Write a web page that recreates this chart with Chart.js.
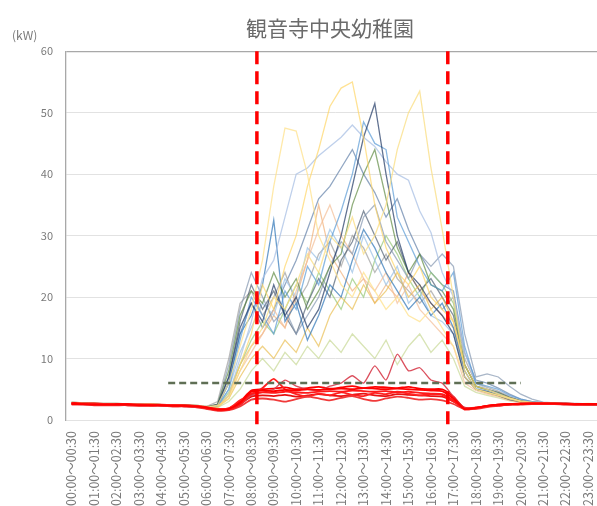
<!DOCTYPE html>
<html><head><meta charset="utf-8">
<script src="https://cdn.jsdelivr.net/npm/chart.js@4/dist/chart.umd.min.js"></script>
<style>
html,body{margin:0;padding:0;overflow:hidden;background:#fff;width:597px;height:506px}
#wrap{position:absolute;left:0;top:0;width:660px;height:506px}
canvas{display:block}
</style></head><body><div id="wrap"><canvas id="c" width="660" height="506"></canvas></div>
<script>
const chartTitle = '観音寺中央幼稚園';
const unitText = '(kW)';
const timeSlots = [
 '00:00～00:30','00:30～01:00','01:00～01:30','01:30～02:00','02:00～02:30','02:30～03:00',
 '03:00～03:30','03:30～04:00','04:00～04:30','04:30～05:00','05:00～05:30','05:30～06:00',
 '06:00～06:30','06:30～07:00','07:00～07:30','07:30～08:00','08:00～08:30','08:30～09:00',
 '09:00～09:30','09:30～10:00','10:00～10:30','10:30～11:00','11:00～11:30','11:30～12:00',
 '12:00～12:30','12:30～13:00','13:00～13:30','13:30～14:00','14:00～14:30','14:30～15:00',
 '15:00～15:30','15:30～16:00','16:00～16:30','16:30～17:00','17:00～17:30','17:30～18:00',
 '18:00～18:30','18:30～19:00','19:00～19:30','19:30～20:00','20:00～20:30','20:30～21:00',
 '21:00～21:30','21:30～22:00','22:00～22:30','22:30～23:00','23:00～23:30','23:30～24:00'];
const tickSlots = [0,2,4,6,8,10,12,14,16,18,20,22,24,26,28,30,32,34,36,38,40,42,44,46];
const yTicks = [0,10,20,30,40,50,60];

// weekday (school day) profiles, kW per half hour
const day01 = [2.8,2.7,2.7,2.6,2.6,2.6,2.5,2.6,2.5,2.5,2.4,2.3,2.0, 2.4,6,12,18, 26,38,47.5,47,40,30,26,22,20,24,21,18,20,17,16,18,15, 12,7,5,4.5,4,3.5,3.1,2.9, 2.8,2.7,2.7,2.6,2.7,2.6];
const day02 = [2.7,2.6,2.6,2.6,2.5,2.5,2.5,2.5,2.4,2.4,2.3,2.2,1.9, 2.1,4,9,14, 22,18,25,30,38,44,51,54,55,46,35,28,24,22,25,20,18, 16,9,5.5,5,4.2,3.6,3,2.8, 2.7,2.7,2.6,2.6,2.6,2.5];
const day03 = [2.9,2.8,2.7,2.7,2.7,2.6,2.6,2.6,2.5,2.5,2.4,2.4,2.2, 2.3,3.5,8,12, 15,20,18,22,27,24,30,28,33,27,30,35,44,50,53.5,41,31, 20,8,5,4.5,4,3.4,3,2.8, 2.7,2.7,2.6,2.6,2.5,2.6];
const day04 = [2.7,2.7,2.6,2.6,2.6,2.5,2.5,2.5,2.5,2.4,2.4,2.3,2.1, 2.5,7,15,19, 16,22,17,20,15,18,24,30,38,46,51.5,40,30,24,22,19,17, 14,7,5,4.6,4,3.3,3,2.8, 2.7,2.6,2.6,2.6,2.5,2.5];
const day05 = [2.8,2.7,2.6,2.6,2.6,2.6,2.5,2.5,2.5,2.4,2.4,2.3,2.0, 2.2,5,13,20, 17,14,21,18,25,22,29,34,40,48.5,45,44,33,29,25,22,21, 24,12,6,5.5,5,4,3.4,3, 2.8,2.7,2.7,2.6,2.6,2.6];
const day06 = [2.7,2.6,2.6,2.5,2.5,2.5,2.5,2.4,2.4,2.4,2.3,2.3,2.1, 2.3,4,10,16, 23,26,33,40,41,43,44.5,46,48,46,44.5,42,40,39,34,30.5,24, 20,11,6,5,4.3,3.5,3,2.8, 2.7,2.6,2.6,2.6,2.5,2.5];
const day07 = [2.8,2.7,2.7,2.6,2.6,2.5,2.5,2.5,2.5,2.5,2.4,2.3,2.1, 2.6,8,17,21, 19,24,20,23,18,21,25,27,35,40,44,36,28,24,27,22,21, 18,9,5.5,5,4.4,3.6,3.1,2.8, 2.7,2.7,2.6,2.6,2.5,2.5];
const day08 = [2.7,2.7,2.6,2.6,2.5,2.5,2.5,2.5,2.4,2.4,2.3,2.3,2.0, 2.3,6,14,17, 22,32.5,16,19,13,17,22,20,26,31,28,24,21,18,20,17,19, 15,8,5,4.5,4,3.4,3,2.8, 2.7,2.6,2.6,2.5,2.5,2.5];
const day09 = [2.9,2.8,2.7,2.7,2.7,2.6,2.6,2.6,2.5,2.5,2.4,2.4,2.2, 2.5,9,18,24, 20,16,18,14,17,20,25,29,27,33,35,29,26,23,27,25,27, 25,14,7,7.5,7,5.5,4.2,3.4, 2.9,2.8,2.7,2.7,2.6,2.6];
const day10 = [2.7,2.6,2.6,2.6,2.5,2.5,2.5,2.5,2.4,2.4,2.3,2.2,1.9, 2.2,4,8,11, 14,18,15,21,26,31,35,30,27,23,21,24,19,22,18,16,14, 12,6,4.8,4.2,3.8,3.2,2.9,2.8, 2.7,2.7,2.6,2.6,2.6,2.5];
const day11 = [2.8,2.7,2.7,2.6,2.6,2.6,2.5,2.6,2.5,2.5,2.4,2.3,2.0, 2.1,3.5,7,10, 12,10,13,11,15,12,17,20,18,22,19,21,24,20,22,18,20, 16,8,5,4.4,3.9,3.3,2.9,2.8, 2.7,2.7,2.6,2.6,2.6,2.6];
const day12 = [2.7,2.7,2.6,2.6,2.5,2.5,2.5,2.5,2.4,2.4,2.3,2.3,2.0, 2.0,3,5,8, 10,8,11,9,12,10,13,11,14,12,10,13,9,12,14,11,13, 10,5.5,4.5,4,3.6,3.1,2.9,2.8, 2.7,2.6,2.6,2.6,2.5,2.5];
const day13 = [2.8,2.7,2.7,2.6,2.6,2.6,2.5,2.6,2.5,2.5,2.4,2.3,2.0, 2.4,7,16,22, 18,21,17,14,19,23,20,26,29,34,30,26,29,24,21,23,20, 17,9,5.5,5,4.5,3.7,3.1,2.9, 2.8,2.7,2.7,2.6,2.6,2.6];
const day14 = [2.7,2.6,2.6,2.6,2.5,2.5,2.5,2.5,2.4,2.4,2.3,2.2,1.9, 2.3,5,11,15, 19,17,23,20,28,26,31,28,24,30,26,22,25,19,21,17,16, 14,7,5.2,4.8,4.2,3.5,3,2.8, 2.7,2.7,2.6,2.6,2.5,2.5];
const day15 = [2.9,2.8,2.7,2.7,2.7,2.6,2.6,2.6,2.5,2.5,2.4,2.4,2.2, 3.0,10,19,21, 17,20,24,19,22,27,29,25,30,28,24,27,23,21,19,21,18, 20,10,6,5.3,4.7,3.8,3.2,2.9, 2.8,2.7,2.7,2.6,2.6,2.6];
const day16 = [2.7,2.7,2.6,2.6,2.5,2.5,2.5,2.5,2.4,2.4,2.3,2.3,2.0, 2.2,4.5,9,13, 16,14,18,22,19,24,21,18,23,20,26,30,27,23,20,24,22, 19,9,5.5,4.7,4.2,3.5,3,2.8, 2.7,2.7,2.6,2.6,2.5,2.5];
const day17 = [2.8,2.7,2.7,2.6,2.6,2.6,2.5,2.6,2.5,2.5,2.4,2.3,2.0, 2.2,4,9,12, 14,17,15,20,26,35,27,24,21,23,19,22,20,24,21,19,17, 15,7,5,4.4,4,3.3,2.9,2.8, 2.7,2.7,2.6,2.6,2.6,2.5];
const day18 = [2.7,2.6,2.6,2.6,2.5,2.5,2.5,2.5,2.4,2.4,2.3,2.2,1.9, 2.4,6,14,19, 15,18,22,26,31,36,38,41,44,40,37,33,36,31,27,24,22, 21,11,6.5,6,5.2,4.2,3.4,3, 2.8,2.7,2.7,2.6,2.6,2.6];

// holiday profiles
const hol01 = [2.6,2.6,2.5,2.5,2.5,2.5,2.4,2.4,2.4,2.3,2.3,2.2,2.0, 1.7,1.8,2.8,4.6, 4.8,4.7,4.9,4.8,5.0,4.9,5.0,5.1,5.0,5.2,5.1,5.0,5.1,5.0,4.9,4.8,4.7, 3.5,1.8,2.0,2.3,2.5,2.6,2.6,2.7, 2.7,2.7,2.6,2.6,2.6,2.6];
const hol02 = [2.7,2.6,2.6,2.5,2.5,2.5,2.5,2.4,2.4,2.4,2.3,2.2,1.9, 1.6,1.7,2.5,4.3, 4.5,4.4,4.6,4.5,4.4,4.6,4.7,4.6,4.8,4.7,4.6,4.7,4.5,4.6,4.4,4.3,4.2, 3.2,1.7,1.9,2.2,2.4,2.5,2.6,2.6, 2.6,2.6,2.6,2.5,2.5,2.5];
const hol03 = [2.6,2.5,2.5,2.5,2.4,2.4,2.4,2.4,2.3,2.3,2.2,2.1,1.9, 1.6,1.7,2.4,4.0, 4.5,5.0,6.5,5.5,5.0,4.8,5.5,6.0,7.2,6.0,8.8,6.5,10.7,8.0,8.5,6.5,6.0, 3.8,2.0,1.9,2.2,2.4,2.5,2.6,2.6, 2.6,2.6,2.5,2.5,2.5,2.5];
const hol04 = [2.5,2.5,2.4,2.4,2.4,2.4,2.3,2.3,2.3,2.2,2.2,2.1,1.8, 1.5,1.6,2.2,3.3, 3.5,3.3,3.0,3.4,3.8,3.5,3.2,3.6,3.9,3.4,3.1,3.5,3.8,3.6,3.3,3.4,3.2, 2.6,1.8,1.8,2.1,2.3,2.5,2.5,2.6, 2.6,2.6,2.5,2.5,2.5,2.5];
const hol05 = [2.7,2.6,2.6,2.6,2.5,2.5,2.5,2.5,2.4,2.4,2.3,2.3,2.0, 1.8,1.9,3.2,4.1, 5.2,6.7,5.0,4.2,3.8,4.3,4.0,4.5,4.1,3.9,4.4,4.2,4.6,4.3,4.0,4.2,4.1, 3.0,2.0,2.0,2.3,2.5,2.6,2.6,2.7, 2.7,2.6,2.6,2.6,2.6,2.6];
const hol06 = [2.6,2.6,2.5,2.5,2.5,2.4,2.4,2.4,2.4,2.3,2.3,2.2,1.9, 1.7,1.7,2.6,3.8, 4.0,3.9,4.1,3.8,4.0,4.2,4.0,3.9,4.1,4.3,4.0,3.9,4.2,4.1,4.0,3.9,3.8, 3.0,1.9,1.9,2.2,2.4,2.5,2.6,2.6, 2.6,2.6,2.6,2.5,2.5,2.5];
const hol07 = [2.8,2.7,2.7,2.6,2.6,2.6,2.5,2.5,2.5,2.4,2.4,2.3,2.1, 1.8,1.9,3.0,4.8, 5.0,5.1,5.3,5.0,5.2,5.4,5.1,5.3,5.5,5.2,5.4,5.3,5.2,5.4,5.1,5.0,5.0, 3.8,1.9,2.0,2.3,2.5,2.6,2.7,2.7, 2.7,2.7,2.7,2.6,2.6,2.6];

// reference markers (slot units / kW)
const hourMarks = [16.5, 33.5];      // 08:30 and 17:00 boundaries
const hourMarkRange = [-0.7, 60];
const baseLevel = 6;
const baseRange = [8.6, 40.0];

const weekdays = [day01,day02,day03,day04,day05,day06,day07,day08,day09,day10,day11,day12,day13,day14,day15,day16,day17,day18];
const holidays = [hol01,hol02,hol03,hol04,hol05,hol06,hol07];

// styles
const weekdayColors = ['rgba(255,226,140,0.75)','rgba(255,214,102,0.7)','rgba(250,222,130,0.75)','rgba(32,56,100,0.7)',
 'rgba(91,155,213,0.7)','rgba(170,192,228,0.75)','rgba(84,130,53,0.65)','rgba(46,117,182,0.7)','rgba(132,151,176,0.7)',
 'rgba(244,190,150,0.7)','rgba(232,186,70,0.65)','rgba(200,216,150,0.7)','rgba(68,84,106,0.65)','rgba(157,195,230,0.75)',
 'rgba(150,150,150,0.65)','rgba(150,200,120,0.7)','rgba(240,170,110,0.65)','rgba(100,130,170,0.7)'];
const holidayColors = ['#ff0000','#ff1a1a','rgba(215,60,75,0.9)','#f03a3a','#ff2020','#e81010','#ff0000'];
const FONT = '"Noto Sans CJK JP", "Noto Sans", sans-serif';

const datasets = [];
hourMarks.forEach(m => datasets.push({
  label: 'mark', data: hourMarkRange.map(v => ({x: m, y: v})),
  borderColor: '#ff0000', borderWidth: 3.5, borderDash: [13, 7], pointRadius: 0, clip: false, order: 0
}));
datasets.push({
  label: 'base', data: baseRange.map(x => ({x, y: baseLevel})),
  borderColor: '#5f6f55', borderWidth: 2.5, borderDash: [7, 4], pointRadius: 0, order: 0
});
holidays.forEach((s, k) => datasets.push({
  label: '休日' + (k + 1), data: s.map((v, i) => ({x: i, y: v})),
  borderColor: holidayColors[k], borderWidth: k === 2 ? 1.3 : 1.8, pointRadius: 0, tension: 0.2, order: 1
}));
weekdays.forEach((s, k) => datasets.push({
  label: '平日' + (k + 1), data: s.map((v, i) => ({x: i, y: v})),
  borderColor: weekdayColors[k], borderWidth: 1.3, pointRadius: 0, tension: 0, order: 2
}));

const unitLabel = {
  id: 'unitLabel',
  afterDraw(chart) {
    const {ctx, chartArea} = chart;
    ctx.save();
    ctx.font = '12px ' + FONT;
    ctx.fillStyle = '#7a7a7a';
    ctx.textAlign = 'left';
    ctx.textBaseline = 'middle';
    ctx.fillText(unitText, chartArea.left - 54, chartArea.top - 16);
    ctx.restore();
  }
};

new Chart(document.getElementById('c'), {
  type: 'line',
  data: {datasets},
  plugins: [unitLabel],
  options: {
    responsive: false, animation: false, events: [],
    layout: {padding: {left: 0, right: 0, top: 0, bottom: 0}},
    plugins: {
      legend: {display: false}, tooltip: {enabled: false},
      title: {display: true, text: chartTitle, color: '#6b6b6b',
        font: {family: FONT, size: 21, weight: 'normal'}, padding: {top: 15, bottom: 11}}
    },
    scales: {
      x: {
        type: 'linear', min: -0.5, max: 47.5,
        afterBuildTicks: s => { s.ticks = tickSlots.map(v => ({value: v})); },
        afterFit: s => { s.height = 86; },
        ticks: {autoSkip: false, minRotation: 90, maxRotation: 90, padding: 11,
          color: '#7a7a7a', font: {family: FONT, size: 12.5},
          callback: v => timeSlots[v]},
        grid: {display: false, drawTicks: false},
        border: {display: false}
      },
      y: {
        min: 0, max: 60,
        afterBuildTicks: s => { s.ticks = yTicks.map(v => ({value: v})); },
        afterFit: s => { s.width = 66; },
        ticks: {padding: 13, color: '#7a7a7a', font: {family: FONT, size: 11}},
        grid: {drawTicks: false, color: c => (c.tick && c.tick.value === 60) ? '#a8a8a8' : '#e2e2e2', lineWidth: c => (c.tick && c.tick.value === 60) ? 1.3 : 1},
        border: {display: true, color: '#a8a8a8', width: 1.3}
      },
      yRight: {
        position: 'right', display: true, min: 0, max: 1,
        afterFit: s => { s.width = 55; },
        ticks: {display: false}, grid: {display: false, drawTicks: false}, border: {display: false}
      }
    }
  }
});
</script>
</body></html>
